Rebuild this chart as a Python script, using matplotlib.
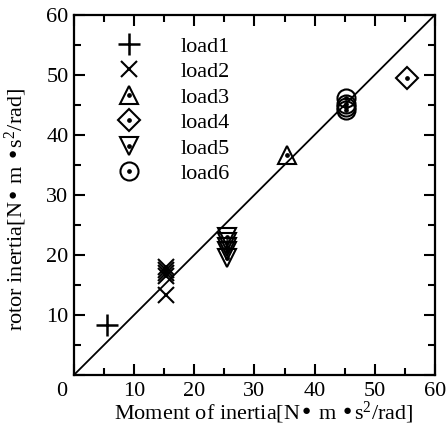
import numpy as np
import matplotlib
matplotlib.use('Agg')
import matplotlib.pyplot as plt

plt.rcParams['font.family'] = ['Liberation Serif', 'DejaVu Serif']
plt.rcParams['mathtext.default'] = 'regular'
plt.rcParams['font.size'] = 16

# measured values for each load
load1_x = [5.5]
load1_y = [8.3]
load2_x = [15.3, 15.3, 15.3, 15.3, 15.3]
load2_y = [17.9, 17.5, 17.0, 16.4, 13.3]
load3_x = [35.4]
load3_y = [36.7]
load4_x = [55.4]
load4_y = [49.4]
load5_x = [25.4, 25.4, 25.4, 25.4, 25.4]
load5_y = [22.9, 22.2, 21.3, 20.6, 19.4]
load6_x = [45.3, 45.3, 45.3, 45.3]
load6_y = [46.2, 45.1, 44.6, 44.1]
labels = ['load1', 'load2', 'load3', 'load4', 'load5', 'load6']
ticks = [0, 10, 20, 30, 40, 50, 60]
ticklabels = ['', '10', '20', '30', '40', '50', '60']

fig = plt.figure(figsize=(4.46, 4.25), dpi=100)
ax = fig.add_axes([0.166, 0.118, 0.809, 0.847])

# reference line y = x
ax.plot([0, 60], [0, 60], color='black', lw=1.3, zorder=1)

mew = 1.5
h1, = ax.plot(load1_x, load1_y, ls='none', marker='+', ms=16, mew=1.8, color='black')
h2, = ax.plot(load2_x, load2_y, ls='none', marker='x', ms=12, mew=mew, color='black')

handles = [h1, h2]
for xs, ys, m, msz in [(load3_x, load3_y, '^', 13), (load4_x, load4_y, 'D', 11),
                       (load5_x, load5_y, 'v', 13), (load6_x, load6_y, 'o', 13)]:
    a, = ax.plot(xs, ys, ls='none', marker=m, ms=msz, mew=mew,
                 mfc='none', mec='black')
    b, = ax.plot(xs, ys, ls='none', marker='o', ms=2.4, color='black')
    handles.append((a, b))

ax.legend(handles, labels, loc='upper left', frameon=False,
          bbox_to_anchor=(0.042, 0.99), handletextpad=1.3, handlelength=2.0,
          labelspacing=0.22, borderpad=0.3, fontsize=16)

ax.set_xlim(0, 60)
ax.set_ylim(0, 60)
ax.set_xticks(ticks)
ax.set_xticklabels(ticklabels)
ax.set_yticks(ticks)
ax.set_yticklabels(ticklabels)
ax.set_xticks(np.arange(0, 61, 5), minor=True)
ax.set_yticks(np.arange(0, 61, 5), minor=True)
ax.tick_params(which='both', direction='in', top=True, right=True, width=1.5)
ax.tick_params(which='major', length=8, labelsize=16)
ax.tick_params(axis='x', which='major', pad=5)
ax.tick_params(axis='y', which='major', pad=4)
ax.tick_params(which='minor', length=5)
for s in ax.spines.values():
    s.set_linewidth(1.6)

# shared origin label at the corner
ax.annotate('0', xy=(0, 0), xycoords='axes fraction', xytext=(-9, -5),
            textcoords='offset points', ha='center', va='top', fontsize=16)

ax.set_xlabel('Moment of inertia[N\u2022 m \u2022s$^2$/rad]', fontsize=16, labelpad=0)
ax.xaxis.set_label_coords(0.525, -0.068)
ax.set_ylabel('rotor inertia[N\u2022 m \u2022s$^2$/rad]', fontsize=16, labelpad=2)
ax.yaxis.set_label_coords(-0.125, 0.46)

fig.savefig('out.png', dpi=100)
